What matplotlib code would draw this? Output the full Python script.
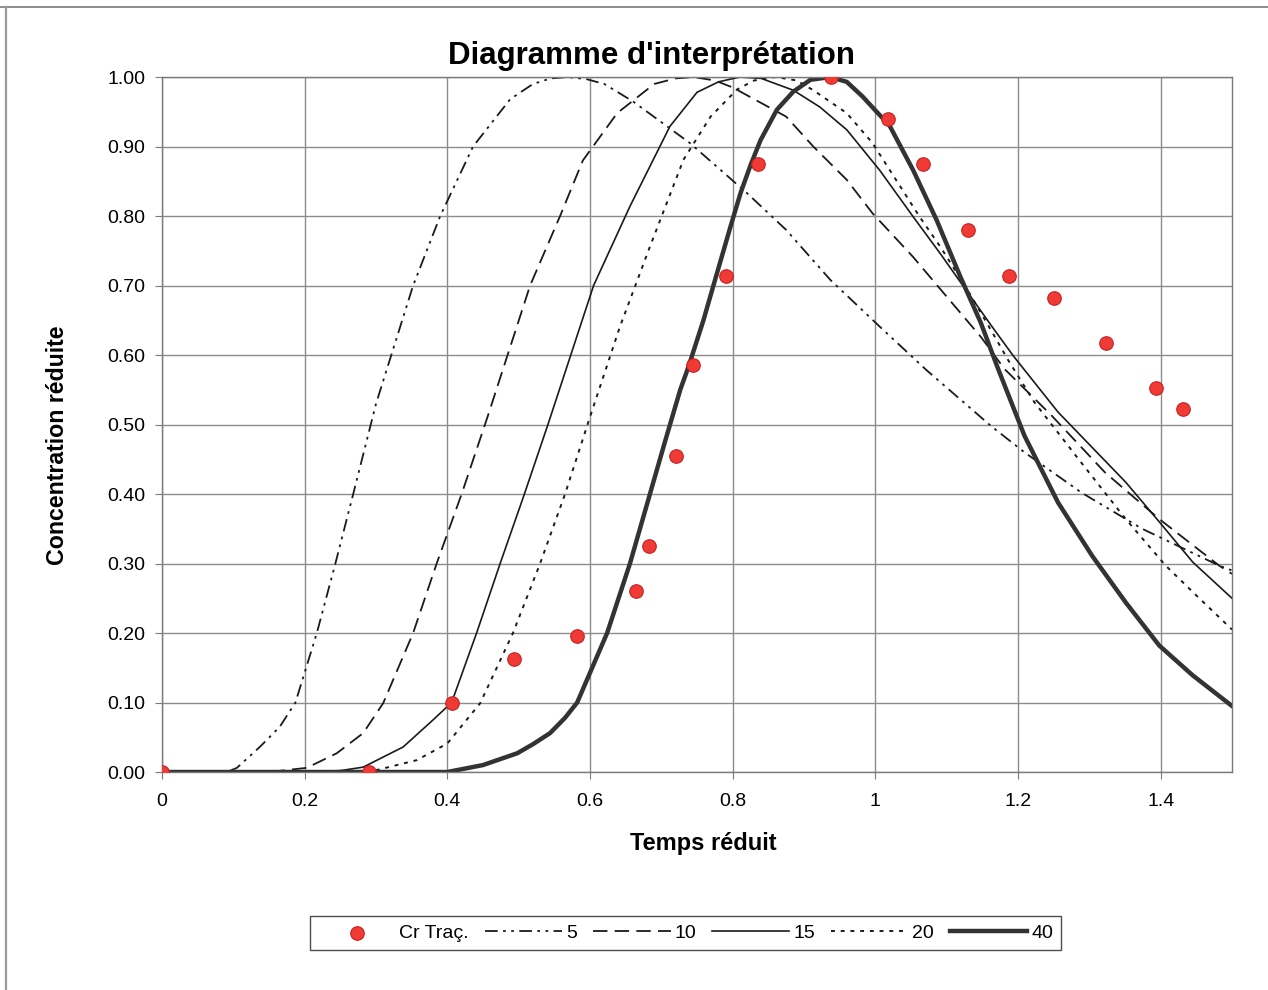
import matplotlib
matplotlib.use("Agg")
import matplotlib.pyplot as plt
from matplotlib.lines import Line2D

plt.rcParams['font.family'] = ['Liberation Sans', 'DejaVu Sans']

# measured tracer data (Cr Traç.)
t_data = [0, 0.29, 0.407, 0.494, 0.582, 0.665, 0.683, 0.72, 0.745, 0.791,
          0.836, 0.938, 1.018, 1.067, 1.13, 1.187, 1.25, 1.323, 1.393, 1.432]
c_data = [0, 0, 0.10, 0.163, 0.195, 0.26, 0.325, 0.455, 0.585, 0.713,
          0.875, 1.0, 0.94, 0.875, 0.78, 0.713, 0.682, 0.618, 0.553, 0.522]

# type curves
x5 = [0, 0.03, 0.077, 0.105, 0.137, 0.165, 0.187, 0.217, 0.243, 0.268, 0.30,
      0.352, 0.39, 0.436, 0.488, 0.52, 0.545, 0.568, 0.595, 0.62, 0.66, 0.74,
      0.82, 0.875, 0.937, 1.006, 1.072, 1.162, 1.209, 1.289, 1.374, 1.482, 1.5]
y5 = [0, -0.006, -0.006, 0.006, 0.036, 0.065, 0.10, 0.20, 0.30, 0.40, 0.53,
      0.70, 0.80, 0.90, 0.968, 0.99, 0.998, 1.0, 0.997, 0.99, 0.965, 0.905,
      0.833, 0.78, 0.708, 0.641, 0.578, 0.498, 0.46, 0.402, 0.35, 0.297, 0.29]

x10 = [0, 0.15, 0.203, 0.245, 0.282, 0.31, 0.352, 0.385, 0.42, 0.456, 0.516,
       0.558, 0.59, 0.638, 0.69, 0.72, 0.745, 0.775, 0.80, 0.875, 0.913, 0.96,
       0.996, 1.053, 1.10, 1.148, 1.181, 1.247, 1.322, 1.398, 1.482, 1.5]
y10 = [0, 0, 0.006, 0.027, 0.056, 0.099, 0.2, 0.3, 0.4, 0.51, 0.70,
       0.80, 0.88, 0.948, 0.99, 0.998, 1.0, 0.995, 0.985, 0.943, 0.90, 0.852,
       0.804, 0.741, 0.684, 0.626, 0.58, 0.513, 0.431, 0.364, 0.297, 0.285]

x15 = [0, 0.2, 0.25, 0.282, 0.338, 0.38, 0.406, 0.441, 0.474, 0.508, 0.541,
       0.573, 0.605, 0.656, 0.712, 0.75, 0.78, 0.81, 0.84, 0.885, 0.922, 0.96,
       1.006, 1.053, 1.091, 1.124, 1.167, 1.194, 1.256, 1.351, 1.398, 1.445, 1.5]
y15 = [0, 0, 0.002, 0.007, 0.036, 0.075, 0.10, 0.20, 0.30, 0.40, 0.50,
       0.60, 0.70, 0.814, 0.929, 0.978, 0.993, 1.0, 0.998, 0.981, 0.957, 0.924,
       0.866, 0.799, 0.746, 0.698, 0.636, 0.598, 0.518, 0.417, 0.36, 0.302, 0.25]

x20 = [0, 0.29, 0.357, 0.40, 0.446, 0.492, 0.53, 0.565, 0.60, 0.642, 0.684,
       0.731, 0.769, 0.806, 0.83, 0.86, 0.89, 0.913, 0.96, 0.996, 1.029, 1.062,
       1.091, 1.129, 1.162, 1.186, 1.223, 1.285, 1.351, 1.407, 1.445, 1.5]
y20 = [0, 0, 0.017, 0.041, 0.099, 0.2, 0.3, 0.4, 0.511, 0.641, 0.756,
       0.881, 0.943, 0.982, 0.995, 1.0, 0.995, 0.981, 0.948, 0.905, 0.852, 0.799,
       0.756, 0.694, 0.636, 0.593, 0.532, 0.45, 0.364, 0.297, 0.259, 0.205]

x40 = [0, 0.40, 0.45, 0.498, 0.52, 0.544, 0.565, 0.582, 0.624, 0.656, 0.684,
       0.705, 0.7265, 0.738, 0.759, 0.773, 0.797, 0.811, 0.825, 0.839, 0.862,
       0.885, 0.909, 0.937, 0.96, 0.982, 1.0, 1.02, 1.053, 1.086, 1.119, 1.148,
       1.171, 1.209, 1.256, 1.304, 1.351, 1.398, 1.445, 1.5]
y40 = [0, 0, 0.01, 0.027, 0.04, 0.056, 0.078, 0.10, 0.20, 0.30, 0.40,
       0.475, 0.55, 0.583, 0.65, 0.70, 0.785, 0.833, 0.873, 0.909, 0.953,
       0.979, 0.996, 1.0, 0.993, 0.972, 0.952, 0.93, 0.866, 0.794, 0.713, 0.646,
       0.583, 0.484, 0.388, 0.311, 0.244, 0.182, 0.139, 0.095]

x_ticks = [0, 0.2, 0.4, 0.6, 0.8, 1.0, 1.2, 1.4]
x_tick_labels = ['0', '0.2', '0.4', '0.6', '0.8', '1', '1.2', '1.4']
y_ticks = [0, 0.1, 0.2, 0.3, 0.4, 0.5, 0.6, 0.7, 0.8, 0.9, 1.0]

fig = plt.figure(figsize=(12.68, 9.9), dpi=100)
ax = fig.add_axes([0.1278, 0.2202, 0.8438, 0.702])

# chart border (only the top and left edges show on the scan)
fig.add_artist(Line2D([0, 1], [0.993, 0.993], transform=fig.transFigure,
                      color='#7a7a7a', lw=1.2))
fig.add_artist(Line2D([0.0045, 0.0045], [0, 0.993], transform=fig.transFigure,
                      color='#9a9a9a', lw=1.6))

ax.scatter(t_data, c_data, s=95, color='#f03a35', edgecolors='#c82020',
           linewidths=0.8, zorder=5, label='Cr Traç.')
ax.plot(x5, y5, color='#1a1a1a', lw=1.3, linestyle=(0, (7, 3, 1.5, 3, 1.5, 3)), label='5')
ax.plot(x10, y10, color='#1a1a1a', lw=1.3, linestyle=(0, (8, 4)), label='10')
ax.plot(x15, y15, color='#1a1a1a', lw=1.2, linestyle='-', label='15')
ax.plot(x20, y20, color='#1a1a1a', lw=1.4, linestyle=(0, (2, 3)), label='20')
ax.plot(x40, y40, color='#333333', lw=3.2, linestyle='-', label='40')

ax.set_xlim(0, 1.5)
ax.set_ylim(0, 1.0)
ax.set_xticks(x_ticks)
ax.set_xticklabels(x_tick_labels)
ax.set_yticks(y_ticks)
ax.set_yticklabels(['%.2f' % v for v in y_ticks])
ax.grid(True, color='#8c8c8c', linewidth=1.0)
ax.set_axisbelow(True)
for sp in ax.spines.values():
    sp.set_color('#7a7a7a')
    sp.set_linewidth(1.0)
ax.tick_params(axis='both', direction='out', length=5, color='#7a7a7a',
               labelsize=14)
ax.tick_params(axis='x', pad=10)
ax.tick_params(axis='y', pad=7)

fig.text(0.514, 0.943, "Diagramme d'interprétation", ha='center', va='center',
         fontsize=22.5, fontweight='bold')
fig.text(0.555, 0.1475, 'Temps réduit', ha='center', va='center',
         fontsize=17, fontweight='bold')
fig.text(0.045, 0.5505, 'Concentration réduite', ha='center', va='center',
         rotation=90, fontsize=16.7, fontweight='bold')

leg = fig.legend(loc='center', bbox_to_anchor=(0.5406, 0.0576), ncol=6,
                 frameon=True, fancybox=False, fontsize=14, handlelength=4.0,
                 handletextpad=0.2, columnspacing=0.8, borderpad=0.4,
                 borderaxespad=0)
leg.get_frame().set_edgecolor('#222222')
leg.get_frame().set_linewidth(1.0)

fig.savefig('out.png', dpi=100)
